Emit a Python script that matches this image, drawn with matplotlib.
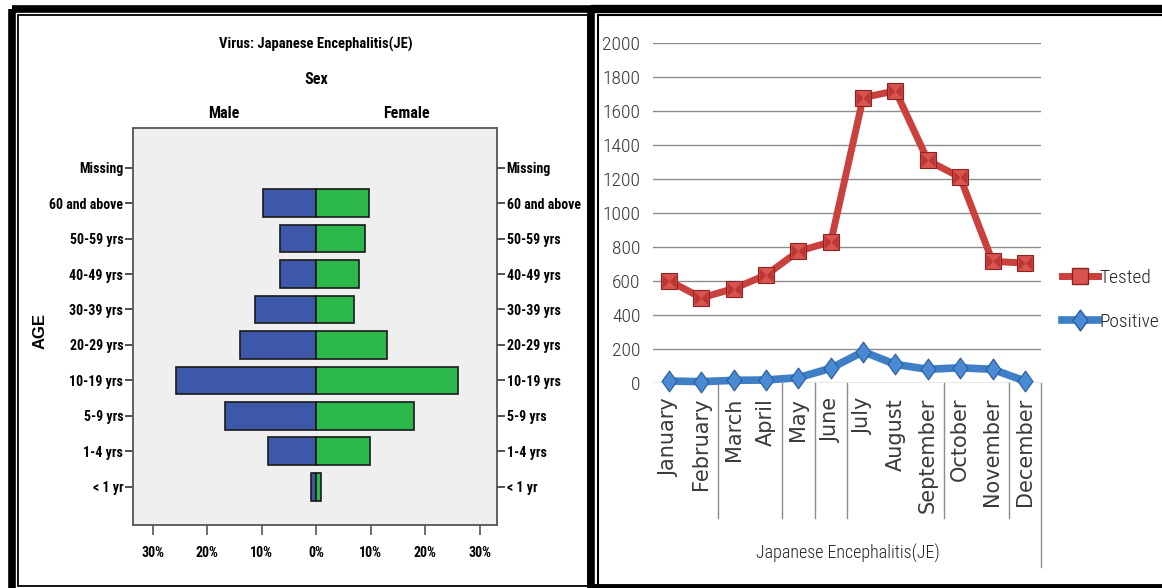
"""
Japanese Encephalitis (JE) surveillance figure.

- Left panel: age/sex pyramid of JE cases (percent within each sex)
- Right panel: monthly samples tested vs. positive
- Saves the combined figure to out.png
"""

import matplotlib.pyplot as plt
from matplotlib.lines import Line2D
from matplotlib.path import Path
from matplotlib.patches import Rectangle

# Age pyramid (percent of cases within each sex), bottom to top
age_groups = [
    "< 1 yr", "1-4 yrs", "5-9 yrs", "10-19 yrs", "20-29 yrs",
    "30-39 yrs", "40-49 yrs", "50-59 yrs", "60 and above", "Missing",
]
male_pct = [1.0, 8.8, 16.7, 25.7, 14.0, 11.2, 6.7, 6.6, 9.8, 0.0]
female_pct = [0.9, 9.9, 18.0, 26.1, 13.1, 6.9, 7.8, 9.0, 9.8, 0.0]
pct_ticks = [-30, -20, -10, 0, 10, 20, 30]
pct_labels = ["30%", "20%", "10%", "0%", "10%", "20%", "30%"]

# Monthly JE samples
months = [
    "January", "February", "March", "April", "May", "June", "July",
    "August", "September", "October", "November", "December",
]
tested = [600, 500, 555, 635, 775, 830, 1680, 1720, 1310, 1210, 715, 705]
positive = [10, 6, 14, 16, 30, 85, 183, 108, 79, 88, 79, 10]
count_ticks = list(range(0, 2001, 200))

W, H = 1162, 588
NARROW = ["Roboto Condensed", "Archivo Narrow", "PT Sans Narrow",
          "Liberation Sans Narrow", "DejaVu Sans"]


def px_box(x0, y0, x1, y1):
    """Pixel box (top-left origin) to figure fraction [left, bottom, w, h]."""
    return [x0 / W, 1 - y1 / H, (x1 - x0) / W, (y1 - y0) / H]


def draw_pyramid(fig):
    ax = fig.add_axes(px_box(133, 128, 497, 525))
    ax.set_facecolor("#efefef")
    ypos = list(range(len(age_groups)))

    # skip empty groups so no zero-width outline is drawn
    rows = [i for i in ypos if male_pct[i] > 0 or female_pct[i] > 0]
    ax.barh(rows, [-male_pct[i] for i in rows], height=0.78,
            color="#3d58a9", edgecolor="#1a1a1a", linewidth=1.2, zorder=3)
    ax.barh(rows, [female_pct[i] for i in rows], height=0.78,
            color="#2db84b", edgecolor="#1a1a1a", linewidth=1.2, zorder=3)

    ax.set_xlim(-33.6, 33.2)
    ax.set_ylim(-1.08, 10.12)
    ax.set_xticks(pct_ticks)
    ax.set_xticklabels(pct_labels)
    ax.set_yticks(ypos)
    ax.set_yticklabels(age_groups)
    ax.tick_params(axis="y", left=True, right=True, labelleft=True,
                   labelright=True, length=6, width=1.2, color="#333333",
                   pad=1)
    ax.tick_params(axis="x", length=7, width=1.2, color="#555555", pad=8)
    for lab in ax.xaxis.get_ticklabels():
        lab.set_family(NARROW)
        lab.set_fontweight("bold")
        lab.set_fontsize(10)
    for tick in ax.yaxis.get_major_ticks():
        for lab in (tick.label1, tick.label2):
            lab.set_family(NARROW)
            lab.set_fontweight("bold")
            lab.set_fontsize(10)
    for sp in ax.spines.values():
        sp.set_color("#555555")
        sp.set_linewidth(1.3)

    fig.text(316 / W, 1 - 44 / H, "Virus: Japanese Encephalitis(JE)",
             ha="center", va="center", family=NARROW, fontweight="bold",
             fontsize=10.5)
    fig.text(316 / W, 1 - 79 / H, "Sex", ha="center", va="center",
             family=NARROW, fontweight="bold", fontsize=11.5)
    fig.text(224 / W, 1 - 113 / H, "Male", ha="center", va="center",
             family=NARROW, fontweight="bold", fontsize=11.5)
    fig.text(406 / W, 1 - 113 / H, "Female", ha="center", va="center",
             family=NARROW, fontweight="bold", fontsize=11.5)
    fig.text(40 / W, 1 - 331 / H, "AGE", ha="center", va="center",
             rotation=90, fontweight="bold", fontsize=12,
             family=["Liberation Sans", "DejaVu Sans"])


def bowtie_marker():
    """Dark left/right triangles drawn over the square marker."""
    verts = [(-1, -1), (0, 0), (-1, 1), (-1, -1),
             (1, -1), (0, 0), (1, 1), (1, -1)]
    codes = [Path.MOVETO, Path.LINETO, Path.LINETO, Path.CLOSEPOLY] * 2
    return Path(verts, codes)


def diamond_marker():
    verts = [(0, 1.25), (0.9, 0), (0, -1.25), (-0.9, 0), (0, 1.25)]
    codes = [Path.MOVETO] + [Path.LINETO] * 3 + [Path.CLOSEPOLY]
    return Path(verts, codes)


def draw_monthly(fig):
    ax = fig.add_axes(px_box(653, 43.3, 1041, 382.7))
    x = list(range(len(months)))

    red, red_dark = "#c9403d", "#8e2220"
    blue, blue_dark = "#3f7fc6", "#2a5d98"

    ax.plot(x, tested, color=red, lw=5, solid_capstyle="round",
            solid_joinstyle="round", zorder=3)
    ax.plot(x, tested, ls="none", marker="s", ms=12, mfc="#d9534f",
            mec=red_dark, mew=0.8, zorder=4)
    ax.plot(x, tested, ls="none", marker=bowtie_marker(), ms=10,
            mfc="#b52f2c", mec="none", alpha=0.8, zorder=5)
    ax.plot(x, positive, color=blue, lw=5.5, solid_capstyle="round",
            solid_joinstyle="round", zorder=3, clip_on=False)
    ax.plot(x, positive, ls="none", marker=diamond_marker(), ms=15,
            mfc="#4a8ad4", mec=blue_dark, mew=0.8, zorder=4, clip_on=False)

    ax.set_xlim(-0.5, 11.5)
    ax.set_ylim(0, 2000)
    ax.set_yticks(count_ticks)
    ax.grid(axis="y", color="#8c8c8c", lw=1.0, zorder=0)
    ax.set_axisbelow(True)
    for sp in ax.spines.values():
        sp.set_visible(False)

    ax.set_xticks(x)
    ax.set_xticklabels(months, rotation=90, ha="center", va="top",
                       fontsize=15, color="#3a3a3a")
    ax.tick_params(axis="x", length=0, pad=11)
    ax.tick_params(axis="y", length=0, pad=9, labelsize=14,
                   labelcolor="#333333")
    for lab in ax.get_yticklabels():
        lab.set_family(NARROW)
        lab.set_fontweight("light")

    # category separators hanging below the zero line
    for bx in [1.5, 3.5, 4.5, 5.5, 8.5, 10.5]:
        ax.plot([bx, bx], [0, -0.399], color="#8c8c8c", lw=1.0,
                transform=ax.get_xaxis_transform(), clip_on=False)
    ax.plot([11.5, 11.5], [0, -0.543], color="#8c8c8c", lw=1.0,
            transform=ax.get_xaxis_transform(), clip_on=False)

    fig.text(848 / W, 1 - 553 / H, "Japanese Encephalitis(JE)",
             ha="center", va="center", family=NARROW, fontsize=13,
             fontweight="light", color="#222222")

    handles = [
        Line2D([], [], color=red, lw=5, marker="s", ms=12, mfc="#d9534f",
               mec=red_dark),
        Line2D([], [], color=blue, lw=5.5, marker=diamond_marker(), ms=15,
               mfc="#4a8ad4", mec=blue_dark),
    ]
    leg = fig.legend(handles, ["Tested", "Positive"], loc="center left",
                     bbox_to_anchor=(1062 / W, 1 - 300 / H), frameon=False,
                     borderpad=0, borderaxespad=0, handlelength=1.85,
                     handletextpad=0.05, labelspacing=1.35,
                     prop={"family": NARROW, "size": 14, "weight": "light"})
    for t in leg.get_texts():
        t.set_color("#222222")


def draw_frames(fig):
    """Heavy outer border plus thin inner border around each panel."""
    frame = fig.add_axes([0, 0, 1, 1], zorder=10)
    frame.set_xlim(0, W)
    frame.set_ylim(H, 0)
    frame.axis("off")
    frame.patch.set_alpha(0)

    # left panel
    frame.add_patch(Rectangle((11.5, 8.5), 579.5, 600, fill=False,
                              lw=5.5, ec="black"))
    frame.add_patch(Rectangle((17.5, 15), 570, 570.5, fill=False,
                              lw=1.3, ec="black"))
    # right panel
    frame.plot([591, 1170], [9, 9], color="black", lw=6,
               solid_capstyle="butt")
    frame.plot([598, 598], [15, 586], color="black", lw=1.5)
    frame.plot([598, 1170], [15, 15], color="black", lw=1.5)
    frame.plot([595, 1170], [585.5, 585.5], color="black", lw=3.5)


def main():
    fig = plt.figure(figsize=(W / 100, H / 100), dpi=100)
    fig.patch.set_facecolor("white")
    draw_pyramid(fig)
    draw_monthly(fig)
    draw_frames(fig)
    fig.savefig("out.png", dpi=100, facecolor="white")
    plt.close(fig)


if __name__ == "__main__":
    main()
